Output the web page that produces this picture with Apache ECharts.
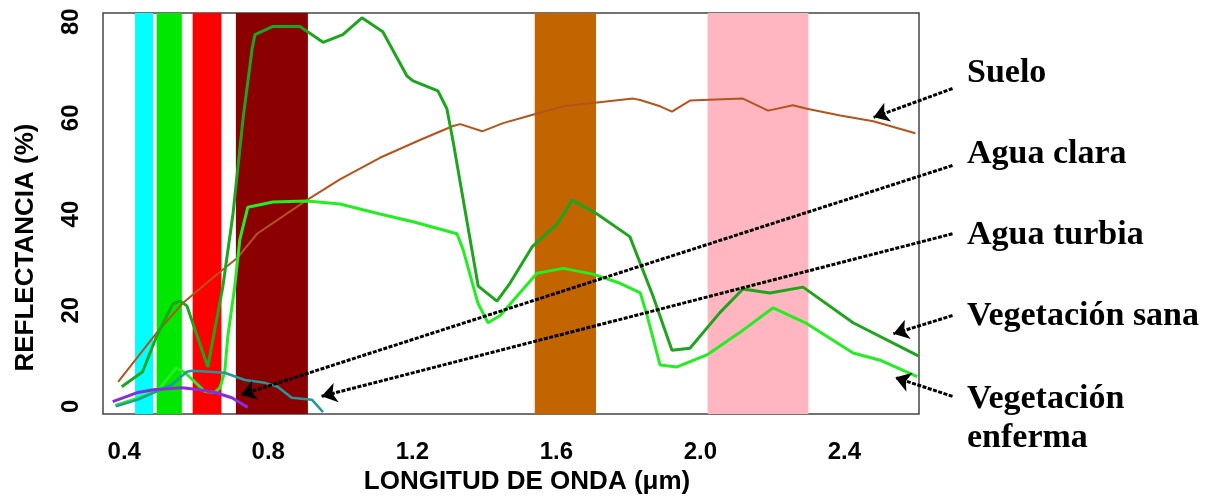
<!DOCTYPE html>
<html>
<head>
<meta charset="utf-8">
<script src="https://cdn.jsdelivr.net/npm/echarts@6/dist/echarts.min.js"></script>
<style>
  html, body { margin: 0; padding: 0; background: #fff; }
  #chart { width: 1211px; height: 500px; }
</style>
</head>
<body>
<div id="chart"></div>
<script>
// reflectance curves: [longitud de onda (µm), reflectancia (%)]
const suelo = [[0.383,5.1],[0.491,15.4],[0.563,21.5],[0.652,27.1],[0.713,30.8],[0.769,35.9],[0.907,42.9],
  [0.999,47.2],[1.110,51.7],[1.221,55.4],[1.313,58.3],[1.333,58.7],[1.394,57.2],[1.452,58.9],[1.527,60.5],
  [1.619,62.4],[1.713,63.2],[1.813,64.0],[1.833,63.7],[1.888,62.4],[1.921,61.3],[1.971,63.6],[2.118,64.0],
  [2.188,61.5],[2.257,62.6],[2.296,61.9],[2.388,60.5],[2.480,59.3],[2.597,56.8]];
const vegSana = [[0.393,4.1],[0.451,7.2],[0.491,14.8],[0.535,21.3],[0.555,21.9],[0.574,20.9],[0.632,8.2],
  [0.674,25.0],[0.702,40.0],[0.730,59.9],[0.755,74.3],[0.763,77.3],[0.813,79.0],[0.888,79.0],[0.952,75.7],
  [1.007,77.3],[1.060,80.8],[1.118,77.9],[1.185,68.7],[1.202,67.7],[1.271,65.6],[1.296,61.9],[1.313,55.2],
  [1.383,25.0],[1.435,21.9],[1.471,25.6],[1.533,33.2],[1.602,37.9],[1.644,42.9],[1.713,40.0],[1.804,35.3],
  [1.868,23.0],[1.921,11.7],[1.971,12.1],[2.054,19.5],[2.118,24.4],[2.193,23.6],[2.285,24.8],[2.424,17.4],
  [2.605,10.5]];
const vegEnferma = [[0.375,0.2],[0.443,1.8],[0.493,3.3],[0.544,8.0],[0.569,7.0],[0.624,3.1],[0.652,2.9],
  [0.666,3.9],[0.679,7.2],[0.688,14.8],[0.707,25.0],[0.721,34.7],[0.743,41.4],[0.813,42.5],[0.907,42.7],
  [0.999,42.1],[1.110,40.0],[1.202,38.4],[1.324,35.9],[1.341,32.6],[1.382,21.5],[1.410,17.4],[1.444,18.9],
  [1.546,27.7],[1.619,28.7],[1.702,27.5],[1.777,25.6],[1.833,23.6],[1.852,18.9],[1.888,8.6],[1.935,8.2],
  [2.018,10.7],[2.110,15.4],[2.202,20.5],[2.296,17.2],[2.424,11.1],[2.499,9.6],[2.602,6.2]];
const aguaClara = [[0.368,1.0],[0.438,2.9],[0.485,3.5],[0.560,3.9],[0.604,3.5],[0.652,2.9],[0.699,1.8],[0.743,-0.2]];
const aguaTurbia = [[0.377,0.0],[0.438,1.4],[0.532,4.5],[0.574,7.2],[0.588,7.4],[0.679,7.0],[0.735,5.5],
  [0.791,4.9],[0.826,4.1],[0.865,1.8],[0.921,1.4],[0.952,-1.2]];

// bandas espectrales [desde, hasta] en µm
const bands = [[0.43,0.48],[0.49,0.56],[0.59,0.67],[0.71,0.91],[1.54,1.71],[2.02,2.30]];
const bandColors = ['#00ffff','#00e800','#ff0000','#8b0000','#c26400','#ffb6c1'];

const xTicks = [0.4, 0.8, 1.2, 1.6, 2.0, 2.4];
const yTicks = [0, 20, 40, 60, 80];

const labels = ['Suelo', 'Agua clara', 'Agua turbia', 'Vegetación sana', 'Vegetación\nenferma'];
// flechas etiqueta -> curva, en unidades de datos
const arrows = [
  [[2.70,66.1],[2.481,60.1]],
  [[2.70,50.1],[0.724,2.4]],
  [[2.70,35.9],[0.948,2.1]],
  [[2.70,18.9],[2.536,15.1]],
  [[2.70,2.1],[2.541,6.0]],
];
const labelTop = [54, 135, 216, 297, 380];

const chart = echarts.init(document.getElementById('chart'));

const font = { fontFamily: 'Liberation Sans', fontWeight: 'bold', color: '#000' };
const isTick = (list, v) => list.some((t) => Math.abs(t - v) < 1e-6);

const curve = (name, data, color, width) => ({
  name, type: 'line', data, symbol: 'none', z: 3,
  lineStyle: { color, width }, itemStyle: { color },
});

chart.setOption({
  animation: false,
  grid: { left: 103, right: 292, top: 13, bottom: 80, show: true, borderColor: '#444', borderWidth: 1.5 },
  xAxis: {
    type: 'value', min: 0.341, max: 2.607, minInterval: 0.4, maxInterval: 0.4,
    name: 'LONGITUD DE ONDA (μm)', nameLocation: 'middle', nameGap: 54,
    nameTextStyle: { ...font, fontSize: 26, padding: [0, 0, 0, 32] },
    axisLine: { show: false }, axisTick: { show: false }, splitLine: { show: false },
    axisLabel: { ...font, fontSize: 24, margin: 26,
      formatter: (v) => (isTick(xTicks, v) ? v.toFixed(1) : '') },
  },
  yAxis: {
    type: 'value', min: -1.6, max: 81.8, minInterval: 20, maxInterval: 20,
    name: 'REFLECTANCIA (%)', nameLocation: 'middle', nameGap: 64,
    nameTextStyle: { ...font, fontSize: 26, padding: [0, 68, 0, 0] },
    axisLine: { show: false }, axisTick: { show: false }, splitLine: { show: false },
    axisLabel: { ...font, fontSize: 24, margin: 20, rotate: 90,
      formatter: (v) => (isTick(yTicks, v) ? String(Math.round(v)) : '') },
  },
  series: [
    {
      type: 'line', data: [], z: 1, silent: true,
      markArea: {
        silent: true,
        data: bands.map(([a, b], i) => [
          { xAxis: a, itemStyle: { color: bandColors[i], opacity: 1 } },
          { xAxis: b },
        ]),
      },
    },
    curve('Suelo', suelo, '#b5541a', 2),
    curve('Vegetación sana', vegSana, '#1ea51e', 3),
    curve('Vegetación enferma', vegEnferma, '#22ee22', 3),
    curve('Agua turbia', aguaTurbia, '#20999b', 2.5),
    curve('Agua clara', aguaClara, '#8a2be2', 3),
    {
      type: 'lines', coordinateSystem: 'cartesian2d', clip: false, z: 5, silent: true,
      symbol: ['none', 'arrow'], symbolSize: 15,
      lineStyle: { color: '#000', width: 3, type: [4, 1.5], opacity: 1 },
      data: arrows.map((c) => ({ coords: c })),
    },
  ],
  graphic: labels.map((t, i) => ({
    type: 'text', left: 967, top: labelTop[i], silent: true,
    style: {
      text: t, fill: '#000', font: 'bold 34px "Liberation Serif"',
      lineHeight: 39, verticalAlign: 'middle',
    },
  })),
});
</script>
</body>
</html>
